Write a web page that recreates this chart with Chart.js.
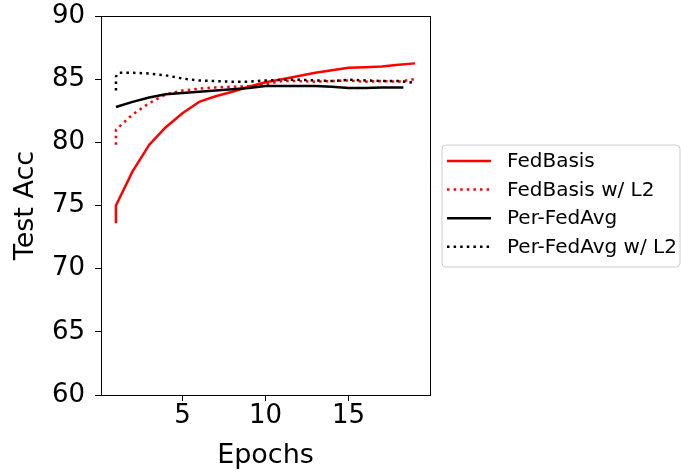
<!DOCTYPE html>
<html>
<head>
<meta charset="utf-8">
<script src="https://cdn.jsdelivr.net/npm/chart.js@4/dist/chart.umd.min.js"></script>
<style>
  html, body { margin: 0; padding: 0; background: #ffffff; }
  #wrap { width: 681px; height: 474px; position: relative; }
</style>
</head>
<body>
<div id="wrap"><canvas id="c" width="681" height="474"></canvas></div>
<script>
// ---- data ----
const seriesNames = ['FedBasis', 'FedBasis w/ L2', 'Per-FedAvg', 'Per-FedAvg w/ L2'];

const epochsFedBasis = [1, 1, 2, 3, 4, 5, 6, 7, 8, 9, 10, 11, 12, 13, 14, 15, 16, 17, 18, 19];
const accFedBasis    = [73.6, 75.0, 77.7, 79.8, 81.2, 82.3, 83.2, 83.65, 84.0, 84.4, 84.75, 85.0, 85.25, 85.5, 85.7, 85.9, 85.95, 86.0, 86.15, 86.25];

const epochsFedBasisL2 = [1, 1, 2, 3, 4, 5, 6, 7, 8, 9, 10, 11, 12, 13, 14, 15, 16, 17, 18, 19];
const accFedBasisL2    = [79.8, 81.0, 82.2, 83.1, 83.8, 84.1, 84.25, 84.35, 84.4, 84.45, 84.6, 84.85, 84.85, 84.8, 84.85, 84.9, 84.8, 84.85, 84.8, 85.0];

const epochsPerFedAvg = [1, 2, 3, 4, 5, 6, 7, 8, 9, 10, 11, 12, 13, 14, 15, 16, 17, 18, 18.3];
const accPerFedAvg    = [82.8, 83.2, 83.55, 83.8, 83.9, 84.0, 84.1, 84.2, 84.3, 84.45, 84.45, 84.45, 84.45, 84.4, 84.3, 84.3, 84.35, 84.35, 84.35];

const epochsPerFedAvgL2 = [1, 1, 1.15, 2, 3, 4, 5, 6, 7, 8, 9, 10, 11, 12, 13, 14, 15, 16, 17, 18, 19];
const accPerFedAvgL2    = [84.1, 85.2, 85.5, 85.5, 85.45, 85.3, 85.05, 84.9, 84.85, 84.8, 84.8, 84.9, 84.95, 84.95, 84.9, 84.85, 84.95, 84.9, 84.85, 84.85, 84.7];

const xTickValues = [5, 10, 15];
const yTickValues = [60, 65, 70, 75, 80, 85, 90];
const xAxisTitle = 'Epochs';
const yAxisTitle = 'Test Acc';

// ---- build ----
const pts = (xs, ys) => xs.map((x, i) => ({x: x, y: ys[i]}));
const FONT = 'DejaVu Sans';
const LW = 2.5;
const DOT = [2.5, 4.1];

const datasets = [
  {label: seriesNames[0], data: pts(epochsFedBasis, accFedBasis), borderColor: '#ff0000', borderDash: [], order: 4},
  {label: seriesNames[1], data: pts(epochsFedBasisL2, accFedBasisL2), borderColor: '#ff0000', borderDash: DOT, order: 3},
  {label: seriesNames[2], data: pts(epochsPerFedAvg, accPerFedAvg), borderColor: '#000000', borderDash: [], order: 2},
  {label: seriesNames[3], data: pts(epochsPerFedAvgL2, accPerFedAvgL2), borderColor: '#000000', borderDash: DOT, order: 1}
].map(d => Object.assign(d, {
  borderWidth: LW, pointRadius: 0, tension: 0, fill: false,
  borderCapStyle: 'butt', borderJoinStyle: 'round', backgroundColor: d.borderColor
}));

const framePlugin = {
  id: 'frame',
  afterDatasetsDraw(chart) {
    const {ctx, chartArea: a} = chart;
    ctx.save();
    ctx.strokeStyle = '#000';
    ctx.lineWidth = 1;
    ctx.setLineDash([]);
    ctx.strokeRect(Math.round(a.left) + 0.5, Math.round(a.top) + 0.5,
                   Math.round(a.right - a.left), Math.round(a.bottom - a.top));
    ctx.restore();
  }
};

const legendPlugin = {
  id: 'boxLegend',
  afterDraw(chart) {
    const ctx = chart.ctx;
    const x0 = 442, y0 = 145, w = 238, h = 122, r = 4;
    ctx.save();
    ctx.beginPath();
    ctx.moveTo(x0 + r, y0);
    ctx.lineTo(x0 + w - r, y0);
    ctx.arcTo(x0 + w, y0, x0 + w, y0 + r, r);
    ctx.lineTo(x0 + w, y0 + h - r);
    ctx.arcTo(x0 + w, y0 + h, x0 + w - r, y0 + h, r);
    ctx.lineTo(x0 + r, y0 + h);
    ctx.arcTo(x0, y0 + h, x0, y0 + h - r, r);
    ctx.lineTo(x0, y0 + r);
    ctx.arcTo(x0, y0, x0 + r, y0, r);
    ctx.closePath();
    ctx.fillStyle = 'rgba(255,255,255,0.8)';
    ctx.fill();
    ctx.strokeStyle = '#cccccc';
    ctx.lineWidth = 1;
    ctx.stroke();
    ctx.font = '20px "' + FONT + '"';
    ctx.textBaseline = 'middle';
    ctx.textAlign = 'left';
    chart.data.datasets.forEach((ds, i) => {
      const yy = 161 + i * 28.6;
      ctx.beginPath();
      ctx.strokeStyle = ds.borderColor;
      ctx.lineWidth = ds.borderWidth;
      ctx.lineCap = 'butt';
      ctx.setLineDash(ds.borderDash || []);
      ctx.moveTo(447, yy);
      ctx.lineTo(491, yy);
      ctx.stroke();
      ctx.setLineDash([]);
      ctx.fillStyle = '#000';
      ctx.fillText(ds.label, 507, yy + 1);
    });
    ctx.restore();
  }
};

new Chart(document.getElementById('c'), {
  type: 'line',
  data: {datasets: datasets},
  plugins: [framePlugin, legendPlugin],
  options: {
    responsive: false,
    animation: false,
    devicePixelRatio: 1,
    layout: {padding: {top: 16, right: 251, left: 0, bottom: 0}},
    plugins: {legend: {display: false}, tooltip: {enabled: false}},
    scales: {
      x: {
        type: 'linear',
        min: 0.1, max: 19.9,
        afterBuildTicks: s => { s.ticks = xTickValues.map(v => ({value: v})); },
        afterFit: s => { s.height = 79; s.paddingLeft = 0; s.paddingRight = 0; },
        grid: {display: true, drawOnChartArea: false, drawTicks: true, tickLength: 6, color: '#000', lineWidth: 1},
        border: {display: false},
        ticks: {color: '#000', font: {family: FONT, size: 26}, padding: 0, maxRotation: 0},
        title: {display: true, text: xAxisTitle, color: '#000', font: {family: FONT, size: 27}, padding: {top: 0, bottom: 2}}
      },
      y: {
        type: 'linear',
        min: 60, max: 90,
        afterBuildTicks: s => { s.ticks = yTickValues.map(v => ({value: v})); },
        afterFit: s => { s.width = 101; s.paddingTop = 0; s.paddingBottom = 0; },
        grid: {display: true, drawOnChartArea: false, drawTicks: true, tickLength: 6, color: '#000', lineWidth: 1},
        border: {display: false},
        ticks: {color: '#000', font: {family: FONT, size: 26}, padding: 10},
        title: {display: true, text: yAxisTitle, color: '#000', font: {family: FONT, size: 27}, padding: {top: 10, bottom: 0}}
      }
    }
  }
});
</script>
</body>
</html>
